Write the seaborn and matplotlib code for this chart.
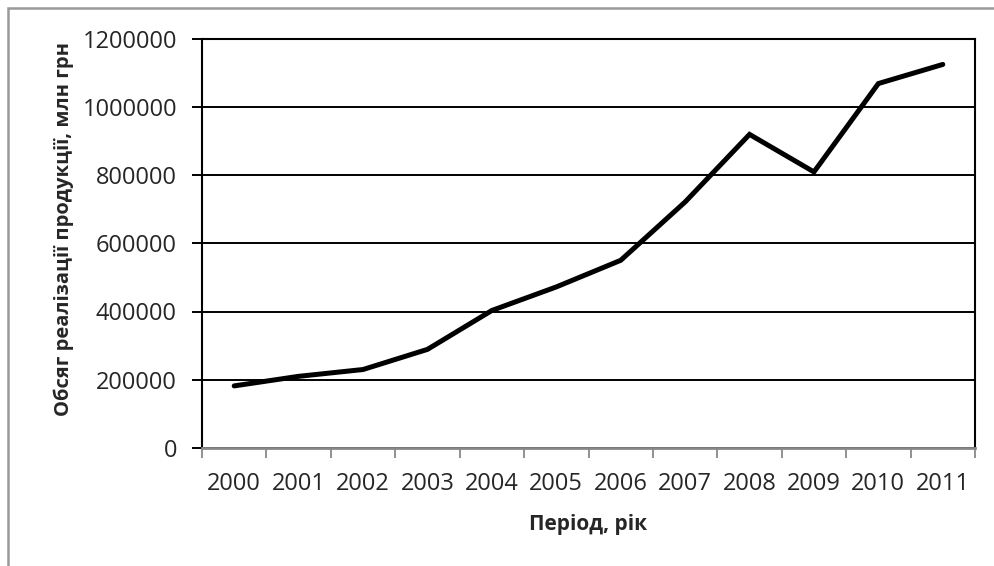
import matplotlib
matplotlib.use("Agg")
import matplotlib.pyplot as plt
import seaborn as sns
import numpy as np
import pandas as pd
from matplotlib.patches import Rectangle
from matplotlib.ticker import FixedLocator

years = ["2000", "2001", "2002", "2003", "2004", "2005",
         "2006", "2007", "2008", "2009", "2010", "2011"]
sales = [182000, 210000, 230000, 289000, 403000, 472000,
         550000, 721000, 919000, 809000, 1068000, 1124000]
yticks = [0, 200000, 400000, 600000, 800000, 1000000, 1200000]

x_label = "Період, рік"
y_label = "Обсяг реалізації продукції, млн грн"

sns.set_theme(style="white")
plt.rcParams['font.family'] = ['Open Sans', 'DejaVu Sans']

df = pd.DataFrame({"pos": np.arange(len(years)), "year": years, "sales": sales})

fig = plt.figure(figsize=(9.95, 5.66), dpi=100)
ax = fig.add_axes([202/995, 1-448/566, (975-202)/995, (448-38.5)/566])

sns.lineplot(data=df, x="pos", y="sales", ax=ax, color="black", linewidth=3.6,
             solid_capstyle="round", solid_joinstyle="miter")

ax.set_xlim(-0.5, len(years) - 0.5)
ax.set_ylim(0, 1200000)
ax.set_yticks(yticks)
ax.set_yticklabels([str(v) for v in yticks], fontsize=17)
ax.yaxis.grid(True, color="black", linewidth=1.4)
ax.set_axisbelow(True)

ax.set_xticks(df["pos"])
ax.set_xticklabels(years, fontsize=17)
ax.xaxis.set_minor_locator(FixedLocator(np.arange(-0.5, len(years), 1.0)))
ax.tick_params(axis="x", which="major", length=0, pad=17)
ax.tick_params(axis="x", which="minor", length=7, width=1.3, color="#888888", direction="out", bottom=True)
ax.tick_params(axis="y", which="major", length=7, width=1.4, color="black", direction="out", left=True, pad=11)

ax.set_xlabel(x_label, fontsize=15, fontweight="bold", labelpad=13)
ax.set_ylabel(y_label, fontsize=14.5, fontweight="bold")
ax.yaxis.set_label_coords(-0.166, 0.535)

for s in ["left", "top", "right"]:
    ax.spines[s].set_color("black")
    ax.spines[s].set_linewidth(1.5)
ax.spines["bottom"].set_color("#888888")
ax.spines["bottom"].set_linewidth(2.0)

fig.patches.append(Rectangle((8/995, -0.1), 1.2, 1.1 - 8/566, transform=fig.transFigure,
                             fill=False, edgecolor="#999999", linewidth=1.8, zorder=0))

fig.savefig("out.png", dpi=100, facecolor="white")
